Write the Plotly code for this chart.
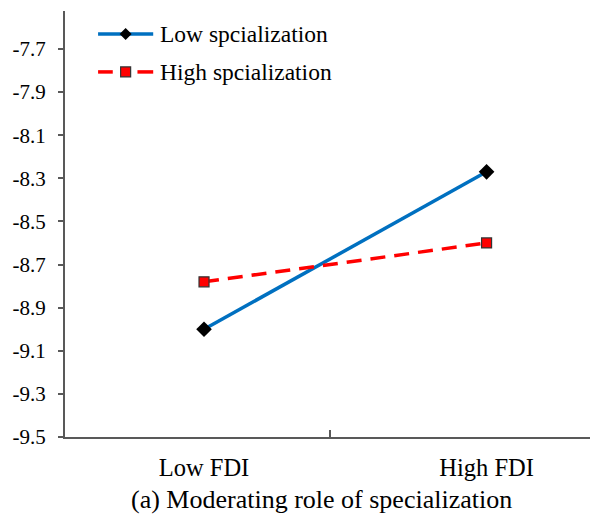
import plotly.graph_objects as go

categories = ["Low FDI", "High FDI"]
low_spec = [-9.00, -8.27]
high_spec = [-8.78, -8.60]
series_names = ["Low spcialization", "High spcialization"]
y_ticks = [-9.5, -9.3, -9.1, -8.9, -8.7, -8.5, -8.3, -8.1, -7.9, -7.7]
y_tick_text = ["%.1f" % v for v in y_ticks]
caption = "(a) Moderating role of specialization"

x_pos = list(range(len(categories)))
FONT = "Liberation Serif, Times New Roman, serif"
AX = "#595959"
BLUE = "#0070C0"
RED = "#FF0000"

fig = go.Figure()
fig.add_trace(go.Scatter(
    x=x_pos, y=low_spec, name=series_names[0], mode="lines+markers",
    line=dict(color=BLUE, width=3.5),
    marker=dict(symbol="diamond", size=12, color="black"),
    showlegend=False,
))
fig.add_trace(go.Scatter(
    x=x_pos, y=high_spec, name=series_names[1], mode="lines+markers",
    line=dict(color=RED, width=3.5, dash="15px,9px"),
    marker=dict(symbol="square", size=10, color=RED,
                line=dict(color="#333333", width=1.2)),
    showlegend=False,
))

# custom legend (longer sample lines, as in the reference)
lx0, lx1, lxc = 0.063, 0.168, 0.1155
rows = [0.946, 0.857]
shapes = [
    dict(type="line", xref="paper", yref="paper", x0=lx0, x1=lx1,
         y0=rows[0], y1=rows[0], line=dict(color=BLUE, width=3.5)),
    dict(type="path", xref="paper", yref="paper", xsizemode="pixel",
         ysizemode="pixel", xanchor=lxc, yanchor=rows[0],
         path="M 0 6 L 6 0 L 0 -6 L -6 0 Z",
         fillcolor="black", line=dict(color="black", width=0)),
    dict(type="line", xref="paper", yref="paper", x0=lx0, x1=lx0 + 0.028,
         y0=rows[1], y1=rows[1], line=dict(color=RED, width=3.5)),
    dict(type="line", xref="paper", yref="paper", x0=lx1 - 0.03, x1=lx1,
         y0=rows[1], y1=rows[1], line=dict(color=RED, width=3.5)),
    dict(type="path", xref="paper", yref="paper", xsizemode="pixel",
         ysizemode="pixel", xanchor=lxc, yanchor=rows[1],
         path="M -5 -5 L 5 -5 L 5 5 L -5 5 Z",
         fillcolor=RED, line=dict(color="#333333", width=1.2)),
]
annotations = [
    dict(text=series_names[i], xref="paper", yref="paper", x=0.177, y=rows[i],
         xanchor="left", yanchor="middle", showarrow=False,
         font=dict(size=23.5, family=FONT, color="black"))
    for i in range(2)
]
annotations.append(dict(
    text=caption, xref="paper", yref="paper", x=0.4895, y=-0.146,
    xanchor="center", yanchor="middle", showarrow=False,
    font=dict(size=26, family=FONT, color="black"),
))

fig.update_layout(
    width=590, height=519,
    margin=dict(l=65, r=0, t=11, b=82),
    plot_bgcolor="white", paper_bgcolor="white",
    font=dict(family=FONT, color="black"),
    showlegend=False,
    xaxis=dict(
        range=[-0.492, 1.366], tickvals=x_pos, ticktext=categories,
        ticks="", showgrid=False, zeroline=False,
        showline=True, linecolor=AX, linewidth=2,
        tickfont=dict(size=24.5, family=FONT), ticklabelstandoff=8,
        minor=dict(tickvals=[0.446], ticks="inside", ticklen=7,
                   tickcolor=AX, tickwidth=2, showgrid=False),
    ),
    yaxis=dict(
        range=[-9.5, -7.524], tickvals=y_ticks, ticktext=y_tick_text,
        ticks="outside", ticklen=5, tickcolor=AX, tickwidth=1.5,
        showgrid=False, zeroline=False,
        showline=True, linecolor=AX, linewidth=2,
        tickfont=dict(size=21, family=FONT), ticklabelstandoff=8,
    ),
    shapes=shapes,
    annotations=annotations,
)

fig.write_html("out.html", config={"displayModeBar": False},
               post_script="document.body.style.margin='0';")
